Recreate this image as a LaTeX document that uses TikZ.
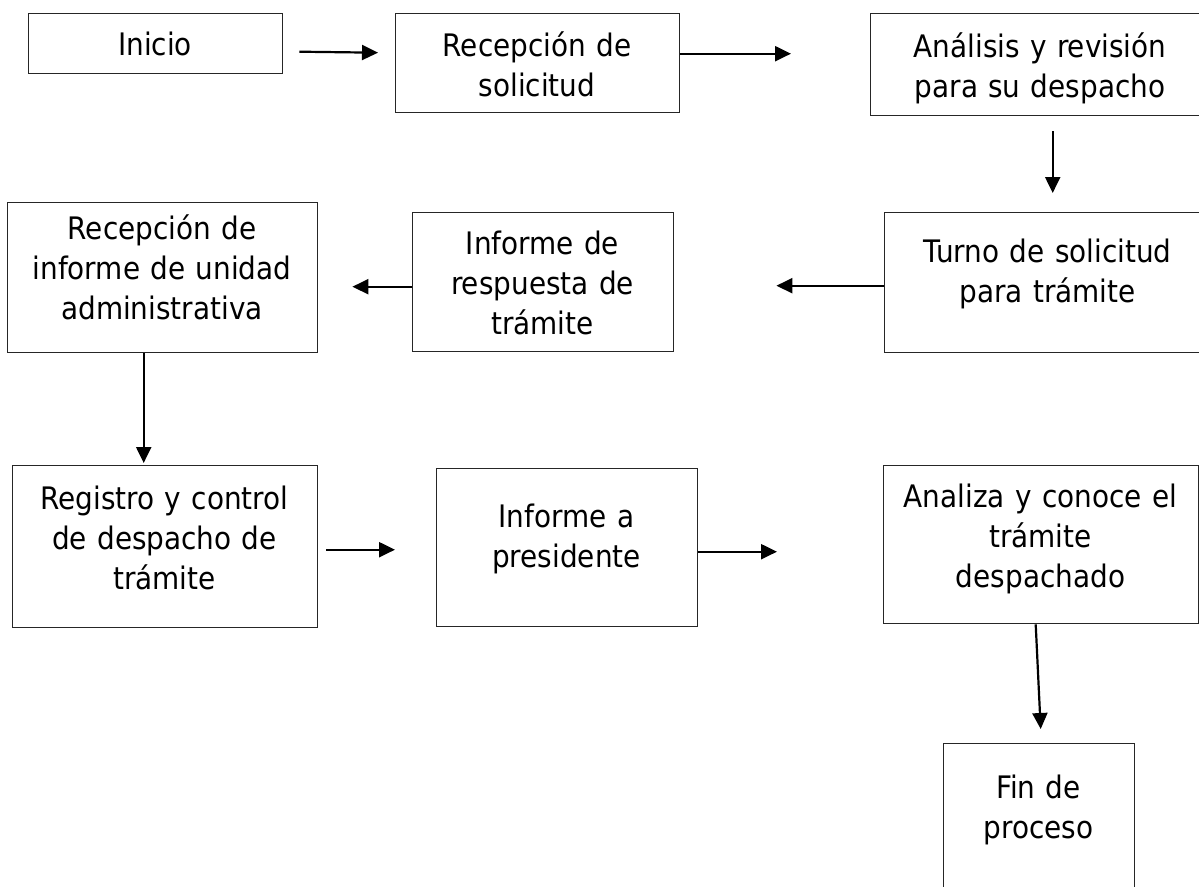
\documentclass[tikz,border=0pt]{standalone}
\usepackage{fontspec}
\setmainfont{DejaVu Sans}[FakeStretch=0.9]
\usetikzlibrary{arrows.meta,calc}

\begin{document}
\begin{tikzpicture}[x=1pt, y=-1pt,
  box/.style={draw=black!85, line width=1.4pt, inner sep=0pt, anchor=north west},
  txt/.style={font=\fontsize{31}{40}\selectfont, text width=320pt,
    align=center, anchor=base, inner sep=0pt},
  arr/.style={line width=2.2pt, -{Triangle[length=16pt, width=15pt]}}]

\useasboundingbox (0,0) rectangle (1199,886);
\clip (0,0) rectangle (1199,886);

% --- Row 1 ---
\node[box, minimum width=254, minimum height=60] (b1) at (28,13) {};
\node[box, minimum width=284, minimum height=99] (b2) at (395,13) {};
\node[box, minimum width=340, minimum height=102] (b3) at (870,13) {};
\node[txt] (t1) at (155,55) {Inicio};
\node[txt] (t2) at (537,56) {Recepción de\\solicitud};
\node[txt] (t3) at (1040,57) {Análisis y revisión\\para su despacho};

% --- Row 2 ---
\node[box, minimum width=327, minimum height=140] (b4) at (884,212) {};
\node[box, minimum width=261, minimum height=139] (b5) at (412,212) {};
\node[box, minimum width=310, minimum height=150] (b6) at (7,202) {};
\node[txt] (t4) at (1047.5,262) {Turno de solicitud\\para trámite};
\node[txt] (t5) at (542.5,254) {Informe de\\respuesta de\\trámite};
\node[txt] (t6) at (162,239) {Recepción de\\informe de unidad\\administrativa};

% --- Row 3 ---
\node[box, minimum width=305, minimum height=162] (b7) at (12,465) {};
\node[box, minimum width=261, minimum height=158] (b8) at (436,468) {};
\node[box, minimum width=315, minimum height=158] (b9) at (883,465) {};
\node[txt] (t7) at (164.5,509) {Registro y control\\de despacho de\\trámite};
\node[txt] (t8) at (566.5,527) {Informe a\\presidente};
\node[txt] (t9) at (1040.5,507) {Analiza y conoce el\\trámite\\despachado};

% --- End ---
\node[box, minimum width=191, minimum height=170] (b10) at (943,743) {};
\node[txt] (t10) at (1038.5,798) {Fin de\\proceso};

% --- Arrows ---
\draw[arr] ($(b1.east)+(16,8)$) -- ($(b2.west)+(-17,-10.5)$);
\draw[arr] ($(b2.east)+(0,-9.5)$) -- ($(b3.west)+(-79,-11)$);
\draw[arr] ($(b3.south)+(12,15)$) -- ($(b4.north)+(4.5,-19)$);
\draw[arr] ($(b4.west)+(0,3)$) -- ($(b5.east)+(102,3.5)$);
\draw[arr] ($(b5.west)+(0,4.5)$) -- ($(b6.east)+(34,9)$);
\draw[arr] ($(b6.south)+(-19,0)$) -- ($(b7.north)+(-21.5,-2)$);
\draw[arr] ($(b7.east)+(8,3)$) -- ($(b8.west)+(-41,2)$);
\draw[arr] ($(b8.east)+(0,4)$) -- ($(b9.west)+(-106,7)$);
\draw[arr] ($(b9.south)+(-5.5,0)$) -- ($(b10.north)+(1.5,-14)$);

\end{tikzpicture}
\end{document}
